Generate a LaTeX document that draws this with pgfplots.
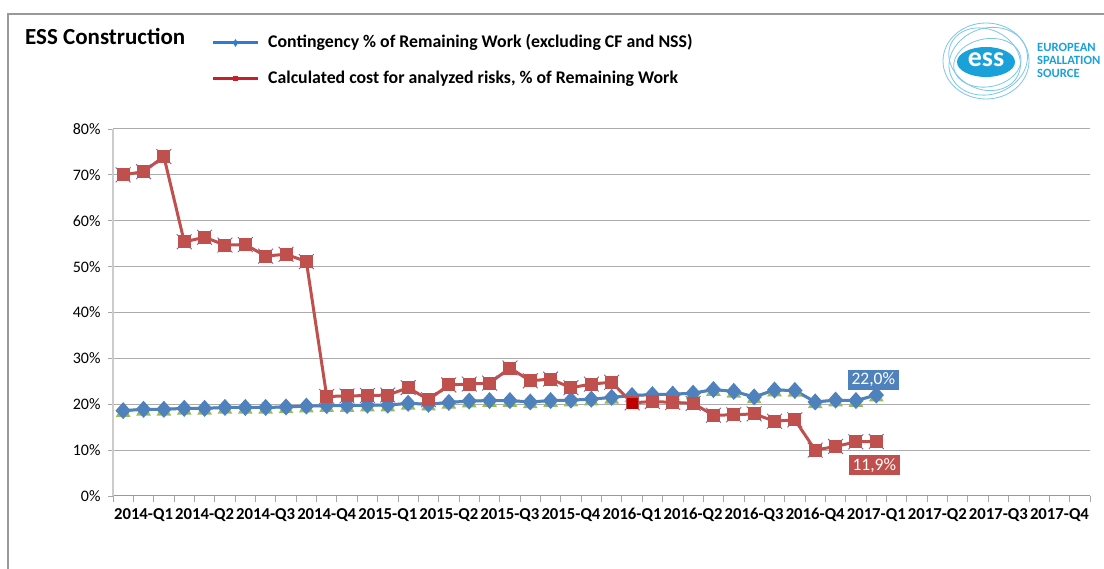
\documentclass[border=0pt]{standalone}
\usepackage{pgfplots}
\pgfplotsset{compat=1.18}
\usepackage{pgfplotstable}
\usepackage{fontspec}
\setmainfont{Carlito}

\definecolor{xlblue}{HTML}{4F81BD}
\definecolor{xlred}{HTML}{C0504D}
\definecolor{xlgreen}{HTML}{9BBB59}
\definecolor{xlpurple}{HTML}{8064A2}
\definecolor{legblue}{HTML}{2E7BD6}
\definecolor{legred}{HTML}{C8202A}
\definecolor{esscyan}{HTML}{1BA1D9}
\definecolor{essring}{HTML}{7CC7E8}

% month index (0 = 2014-01), contingency %, risk cost %
\pgfplotstableread{
x    cont  risk
0.5  18.6  70.0
1.5  18.9  70.7
2.5  18.9  74.0
3.5  19.1  55.4
4.5  19.1  56.4
5.5  19.3  54.7
6.5  19.3  54.8
7.5  19.3  52.3
8.5  19.4  52.7
9.5  19.6  51.1
10.5 19.7  21.7
11.5 19.7  21.8
12.5 19.8  21.9
13.5 19.8  22.0
14.5 20.2  23.6
15.5 20.0  21.0
16.5 20.4  24.2
17.5 20.7  24.4
18.5 20.8  24.6
19.5 20.8  27.9
20.5 20.5  25.1
21.5 20.8  25.5
22.5 20.9  23.6
23.5 21.1  24.4
24.5 21.5  24.8
25.5 21.9  20.3
26.5 22.1  20.6
27.5 22.2  20.4
28.5 22.4  20.2
29.5 23.2  17.6
30.5 22.8  17.7
31.5 21.6  17.9
32.5 23.1  16.3
33.5 23.0  16.6
34.5 20.5  10.0
35.5 20.9  10.8
36.5 20.8  11.8
37.5 22.0  11.9
}\essdata

\begin{document}
\begin{tikzpicture}[x=1pt,y=1pt]
\clip (0,0) rectangle (1104,569);
\fill[white] (0,0) rectangle (1104,569);
\draw[gray!80, line width=1.5pt] (8,-5) -- (8,555) -- (1110,555);

% title and legend
\node[anchor=base west, inner sep=0, font=\fontsize{23}{26}\selectfont\bfseries] at (25,524) {ESS Construction};
\draw[legblue, line width=3pt] (213,526) -- (258,526);
\fill[legblue] (235.5,530) -- (238,526) -- (235.5,522) -- (233,526) -- cycle;
\node[anchor=base west, inner sep=0, font=\fontsize{17.8}{20}\selectfont\bfseries] at (268,521) {Contingency \% of Remaining Work (excluding CF and NSS)};
\draw[legred, line width=3pt] (213,490) -- (258,490);
\fill[legred] (233,487.5) rectangle (238,492.5);
\node[anchor=base west, inner sep=0, font=\fontsize{17.8}{20}\selectfont\bfseries] at (268,485) {Calculated cost for analyzed risks, \% of Remaining Work};

% logo
\begin{scope}[essring, line width=0.8pt]
\draw (986,508) ellipse [x radius=43, y radius=38];
\draw[rotate around={20:(986,508)}] (988,507) ellipse [x radius=40, y radius=33];
\draw[rotate around={-25:(986,508)}] (984,509) ellipse [x radius=37, y radius=30];
\draw[rotate around={10:(986,508)}] (987,506) ellipse [x radius=34, y radius=24];
\end{scope}
\fill[esscyan] (986,507) ellipse [x radius=29, y radius=15];
\node[white, font=\fontsize{28}{28}\selectfont\bfseries] at (986,509) {ess};
\begin{scope}[esscyan, font=\fontsize{12.6}{15}\selectfont\bfseries]
\node[anchor=base west, inner sep=0] at (1037,517) {EUROPEAN};
\node[anchor=base west, inner sep=0] at (1037,504) {SPALLATION};
\node[anchor=base west, inner sep=0] at (1037,491) {SOURCE};
\end{scope}

\begin{axis}[
  at={(113pt,73pt)}, anchor=south west,
  scale only axis,
  width=977pt, height=367pt,
  xmin=0, xmax=48,
  ymin=0, ymax=80,
  clip=false,
  axis x line=bottom,
  axis y line=left,
  axis line style={-},
  x axis line style={draw=gray!80, line width=1pt},
  y axis line style={draw=gray!40, line width=1.5pt},
  ytick={0,10,...,80},
  yticklabels={0\%,10\%,20\%,30\%,40\%,50\%,60\%,70\%,80\%},
  xtick={1.5,4.5,...,46.5},
  xticklabels={2014-Q1,2014-Q2,2014-Q3,2014-Q4,2015-Q1,2015-Q2,2015-Q3,2015-Q4,2016-Q1,2016-Q2,2016-Q3,2016-Q4,2017-Q1,2017-Q2,2017-Q3,2017-Q4},
  minor xtick={0,1,...,48},
  tick align=outside,
  major tick length=5pt,
  minor tick length=6pt,
  x tick style={draw=none},
  minor x tick style={draw=gray!70, line width=0.8pt},
  y tick style={draw=gray!70, line width=0.8pt},
  xticklabel style={font=\fontsize{16.7}{19}\selectfont\bfseries, yshift=-4pt},
  yticklabel style={font=\fontsize{16}{18}\selectfont, xshift=-4pt},
  ymajorgrids,
  major grid style={draw=gray!65, line width=1pt},
]
% green series (hidden behind blue)
\addplot[xlgreen, line width=2.5pt, mark=triangle*, mark size=6pt,
  mark options={yshift=-2pt}] table[x=x, y=cont] {\essdata};
% contingency
\addplot[xlblue, line width=3pt, mark=diamond*, mark size=6.3pt,
  mark options={xscale=1.2}] table[x=x, y=cont] {\essdata};
% x marks peeking out behind the red squares
\addplot[only marks, xlpurple, mark=x, mark size=10.5pt, mark options={line width=0.9pt}]
  table[x=x, y=risk] {\essdata};
% risk cost
\addplot[xlred, line width=3pt, mark=square*, mark size=5pt] table[x=x, y=risk] {\essdata};
\addplot[only marks, mark=square*, mark size=5pt, color=red!75!black] coordinates {(25.5,20.3)};
% data labels
\node[fill=xlblue, text=white, inner xsep=4pt, inner ysep=3pt,
  font=\fontsize{17.5}{20}\selectfont] at (axis cs:37.5,22.0) [yshift=15pt, xshift=-3pt] {22,0\%};
\node[fill=xlred, text=white, inner xsep=4pt, inner ysep=3pt,
  font=\fontsize{17.5}{20}\selectfont] at (axis cs:37.5,11.9) [yshift=-24pt, xshift=-2pt] {11,9\%};
\end{axis}
\end{tikzpicture}
\end{document}
